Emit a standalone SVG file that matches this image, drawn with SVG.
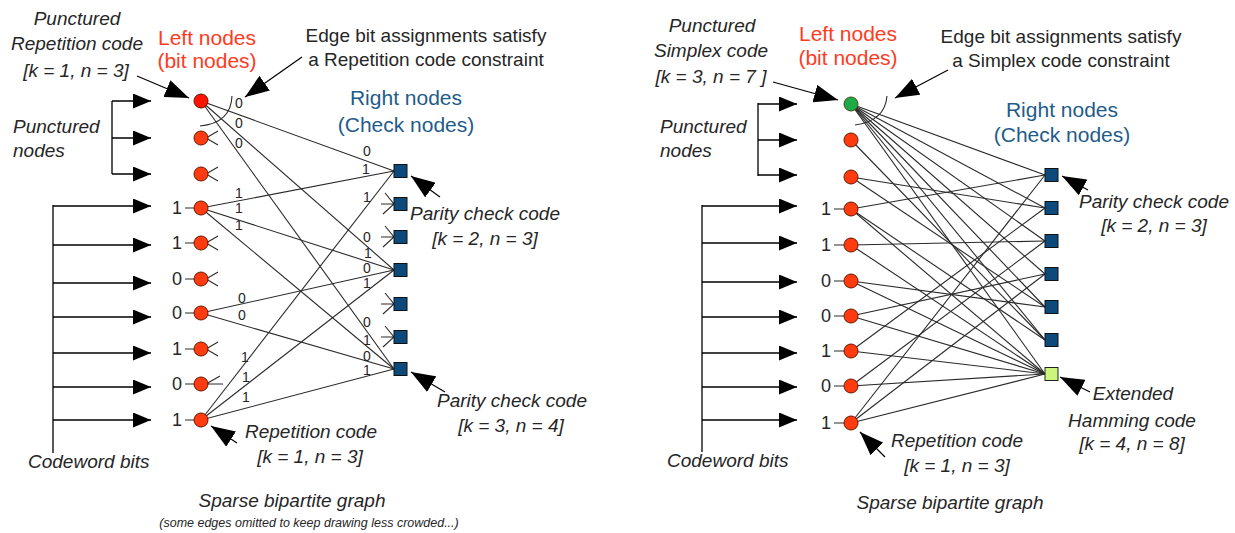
<svg xmlns="http://www.w3.org/2000/svg" width="1235" height="533" viewBox="0 0 1235 533">
<defs>
<style>
.e{stroke:#2a2a2a;stroke-width:1.1;fill:none}
.a{stroke:#000;stroke-width:1.3;fill:none}
.ah{stroke:#000;stroke-width:1.3;fill:none;marker-end:url(#mh)}
.ad{stroke:#000;stroke-width:1.2;fill:none;marker-end:url(#md)}
.rn{fill:#FF3B0F;stroke:#6a1800;stroke-width:1}
.rn1{fill:#FF1400;stroke:#6a1000;stroke-width:1}
.gn{fill:#1EAA48;stroke:#4a4a10;stroke-width:1}
.sq{fill:#0D4A7C;stroke:#111;stroke-width:1}
.hq{fill:#CCF57E;stroke:#222;stroke-width:1}
.t{font-family:"Liberation Sans",Arial,sans-serif;font-style:italic;font-size:19px;fill:#262626}
.n{font-family:"Liberation Sans",Arial,sans-serif;font-size:19px;fill:#262626}
.L{font-family:"Liberation Sans",Arial,sans-serif;font-size:21px;fill:#FF3B1F}
.R{font-family:"Liberation Sans",Arial,sans-serif;font-size:21px;fill:#1F5C8A}
.b{font-family:"Liberation Sans",Arial,sans-serif;font-size:18px;fill:#262626}
.d{font-family:"Liberation Sans",Arial,sans-serif;font-size:14px;fill:#262626;text-anchor:middle}
.s{font-family:"Liberation Sans",Arial,sans-serif;font-style:italic;font-size:12.5px;fill:#262626}
.m{text-anchor:middle}
</style>
<marker id="mh" markerUnits="userSpaceOnUse" viewBox="0 0 18 15" refX="18" refY="7.5" markerWidth="18" markerHeight="15" orient="auto"><path d="M0,0 L18,7.5 L0,15 Z" fill="#000"/></marker>
<marker id="md" markerUnits="userSpaceOnUse" viewBox="0 0 24 18" refX="24" refY="9" markerWidth="24" markerHeight="18" orient="auto"><path d="M0,0 L24,9 L0,18 Z" fill="#000"/></marker>
</defs>
<rect width="1235" height="533" fill="#fff"/>

<!-- LEFT DIAGRAM -->
<g id="connectors-left">
<line class="e" x1="201" y1="101" x2="394" y2="171"/>
<line class="e" x1="201" y1="101" x2="394" y2="270"/>
<line class="e" x1="201" y1="101" x2="394" y2="369"/>
<line class="e" x1="201" y1="208" x2="394" y2="171"/>
<line class="e" x1="201" y1="208" x2="394" y2="270"/>
<line class="e" x1="201" y1="208" x2="394" y2="369"/>
<line class="e" x1="201" y1="313" x2="394" y2="270"/>
<line class="e" x1="201" y1="313" x2="394" y2="369"/>
<line class="e" x1="201" y1="420" x2="394" y2="171"/>
<line class="e" x1="201" y1="420" x2="394" y2="270"/>
<line class="e" x1="201" y1="420" x2="394" y2="369"/>
<path class="e" d="M200,126 Q231,123 232,96"/>
<path class="e" d="M218,131 L206,138 L218,145 M218,167 L206,174 L218,181 M218,236 L206,243 L218,250 M218,272 L206,279 L218,286 M218,342 L206,349 L218,356 M220,376 L206,384 L223,384"/>
<path class="e" d="M385,193 L394,204 L383,214 M381,204 L394,204 M385,226 L394,237 L383,247 M381,237 L394,237 M385,293 L394,304 L383,314 M381,304 L394,304 M385,326 L394,337 L383,347 M381,337 L394,337"/>
<path class="e" d="M185,208 L195,208 M185,243 L195,243 M185,279 L195,279 M185,313 L195,313 M185,349 L195,349 M185,384 L195,384 M185,420 L195,420"/>
<path class="a" d="M112,101 L112,174"/>
<line class="ah" x1="112" y1="101" x2="151" y2="101"/>
<line class="ah" x1="112" y1="138" x2="151" y2="138"/>
<line class="ah" x1="112" y1="174" x2="151" y2="174"/>
<path class="a" d="M53,205 L53,453"/>
<line class="ah" x1="53" y1="206" x2="151" y2="206"/>
<line class="ah" x1="53" y1="245" x2="151" y2="245"/>
<line class="ah" x1="53" y1="283" x2="151" y2="283"/>
<line class="ah" x1="53" y1="317" x2="151" y2="317"/>
<line class="ah" x1="53" y1="353" x2="151" y2="353"/>
<line class="ah" x1="53" y1="387" x2="151" y2="387"/>
<line class="ah" x1="53" y1="420" x2="151" y2="420"/>
<line class="ad" x1="137" y1="76" x2="189" y2="98"/>
<line class="ad" x1="302" y1="57" x2="245" y2="97"/>
<line class="ad" x1="440" y1="197" x2="411" y2="176"/>
<line class="ad" x1="445" y1="392" x2="411" y2="372"/>
<line class="ad" x1="237" y1="443" x2="211" y2="426"/>
</g>

<g id="left-bit-nodes">
<circle id="L1" class="rn1" cx="201" cy="101" r="7"/>
<circle id="L2" class="rn" cx="201" cy="138" r="7"/>
<circle id="L3" class="rn" cx="201" cy="174" r="7"/>
<circle id="L4" class="rn" cx="201" cy="208" r="7"/>
<circle id="L5" class="rn" cx="201" cy="243" r="7"/>
<circle id="L6" class="rn" cx="201" cy="279" r="7"/>
<circle id="L7" class="rn" cx="201" cy="313" r="7"/>
<circle id="L8" class="rn" cx="201" cy="349" r="7"/>
<circle id="L9" class="rn" cx="201" cy="384" r="7"/>
<circle id="L10" class="rn" cx="201" cy="420" r="7"/>
</g>
<g id="left-check-nodes">
<rect id="LC1" class="sq" x="394" y="164.5" width="13" height="13"/>
<rect id="LC2" class="sq" x="394" y="197.5" width="13" height="13"/>
<rect id="LC3" class="sq" x="394" y="230.5" width="13" height="13"/>
<rect id="LC4" class="sq" x="394" y="263.5" width="13" height="13"/>
<rect id="LC5" class="sq" x="394" y="297.5" width="13" height="13"/>
<rect id="LC6" class="sq" x="394" y="330.5" width="13" height="13"/>
<rect id="LC7" class="sq" x="394" y="362.5" width="13" height="13"/>
</g>

<g id="left-labels">
<text class="d" x="239" y="108">0</text>
<text class="d" x="239" y="128">0</text>
<text class="d" x="239" y="148">0</text>
<text class="d" x="239" y="198">1</text>
<text class="d" x="239" y="213">1</text>
<text class="d" x="239" y="230">1</text>
<text class="d" x="242" y="303">0</text>
<text class="d" x="242" y="320">0</text>
<text class="d" x="245" y="362">1</text>
<text class="d" x="246" y="382">1</text>
<text class="d" x="246" y="402">1</text>
<text class="d" x="367" y="156">0</text>
<text class="d" x="366" y="174">1</text>
<text class="d" x="367" y="202">1</text>
<text class="d" x="367" y="242">0</text>
<text class="d" x="368" y="258">1</text>
<text class="d" x="367" y="273">0</text>
<text class="d" x="367" y="288">1</text>
<text class="d" x="367" y="327">0</text>
<text class="d" x="367" y="345">1</text>
<text class="d" x="367" y="361">0</text>
<text class="d" x="367" y="375">1</text>
<text class="b m" x="177" y="214">1</text>
<text class="b m" x="177" y="249">1</text>
<text class="b m" x="177" y="285">0</text>
<text class="b m" x="177" y="319">0</text>
<text class="b m" x="177" y="355">1</text>
<text class="b m" x="177" y="390">0</text>
<text class="b m" x="177" y="426">1</text>
<text class="t m" x="77" y="25">Punctured</text>
<text class="t m" x="77" y="50">Repetition code</text>
<text class="t m" x="76" y="77">[k = 1, n = 3]</text>
<text class="L m" x="207" y="45">Left nodes</text>
<text class="L m" x="207" y="68">(bit nodes)</text>
<text class="n m" x="426" y="42">Edge bit assignments satisfy</text>
<text class="n m" x="426" y="66">a Repetition code constraint</text>
<text class="R m" x="406" y="105">Right nodes</text>
<text class="R m" x="406" y="132">(Check nodes)</text>
<text class="t" x="13" y="133">Punctured</text>
<text class="t" x="13" y="157">nodes</text>
<text class="t" x="28" y="468">Codeword bits</text>
<text class="t m" x="485" y="220">Parity check code</text>
<text class="t m" x="485" y="245">[k = 2, n = 3]</text>
<text class="t m" x="512" y="407">Parity check code</text>
<text class="t m" x="511" y="432">[k = 3, n = 4]</text>
<text class="t m" x="311" y="438">Repetition code</text>
<text class="t m" x="310" y="463">[k = 1, n = 3]</text>
<text class="t m" x="292" y="507">Sparse bipartite graph</text>
<text class="s m" x="309" y="527">(some edges omitted to keep drawing less crowded...)</text>
</g>

<!-- RIGHT DIAGRAM -->
<g id="connectors-right">
<line class="e" x1="851" y1="104" x2="1045" y2="175"/>
<line class="e" x1="851" y1="104" x2="1045" y2="208"/>
<line class="e" x1="851" y1="104" x2="1045" y2="241"/>
<line class="e" x1="851" y1="104" x2="1045" y2="274"/>
<line class="e" x1="851" y1="104" x2="1045" y2="307"/>
<line class="e" x1="851" y1="104" x2="1045" y2="340"/>
<line class="e" x1="851" y1="104" x2="1045" y2="374"/>
<line class="e" x1="851" y1="140" x2="1045" y2="340"/>
<line class="e" x1="851" y1="177" x2="1045" y2="208"/>
<line class="e" x1="851" y1="177" x2="1045" y2="307"/>
<line class="e" x1="851" y1="209" x2="1045" y2="175"/>
<line class="e" x1="851" y1="209" x2="1045" y2="340"/>
<line class="e" x1="851" y1="209" x2="1045" y2="374"/>
<line class="e" x1="851" y1="245" x2="1045" y2="241"/>
<line class="e" x1="851" y1="245" x2="1045" y2="374"/>
<line class="e" x1="851" y1="281" x2="1045" y2="307"/>
<line class="e" x1="851" y1="281" x2="1045" y2="374"/>
<line class="e" x1="851" y1="316" x2="1045" y2="274"/>
<line class="e" x1="851" y1="316" x2="1045" y2="374"/>
<line class="e" x1="851" y1="351" x2="1045" y2="208"/>
<line class="e" x1="851" y1="351" x2="1045" y2="374"/>
<line class="e" x1="851" y1="386" x2="1045" y2="241"/>
<line class="e" x1="851" y1="386" x2="1045" y2="374"/>
<line class="e" x1="851" y1="423" x2="1045" y2="175"/>
<line class="e" x1="851" y1="423" x2="1045" y2="274"/>
<line class="e" x1="851" y1="423" x2="1045" y2="374"/>
<path class="e" d="M855,125 Q885,121 887,96"/>
<path class="e" d="M834,209 L844,209 M834,245 L844,245 M834,281 L844,281 M834,316 L844,316 M834,351 L844,351 M834,386 L844,386 M834,423 L844,423"/>
<path class="a" d="M758,103 L758,176"/>
<line class="ah" x1="758" y1="104" x2="797" y2="104"/>
<line class="ah" x1="758" y1="140" x2="797" y2="140"/>
<line class="ah" x1="758" y1="175" x2="797" y2="175"/>
<path class="a" d="M702,205 L702,452"/>
<line class="ah" x1="702" y1="206" x2="797" y2="206"/>
<line class="ah" x1="702" y1="243" x2="797" y2="243"/>
<line class="ah" x1="702" y1="282" x2="797" y2="282"/>
<line class="ah" x1="702" y1="317" x2="797" y2="317"/>
<line class="ah" x1="702" y1="353" x2="797" y2="353"/>
<line class="ah" x1="702" y1="387" x2="797" y2="387"/>
<line class="ah" x1="702" y1="420" x2="797" y2="420"/>
<line class="ad" x1="773" y1="82" x2="838" y2="100"/>
<line class="ad" x1="948" y1="70" x2="895" y2="98"/>
<line class="ad" x1="1088" y1="190" x2="1062" y2="176"/>
<line class="ad" x1="1090" y1="392" x2="1060" y2="377"/>
<line class="ad" x1="885" y1="457" x2="860" y2="432"/>
</g>

<g id="right-bit-nodes">
<circle id="R1" class="gn" cx="851" cy="104" r="7"/>
<circle id="R2" class="rn" cx="851" cy="140" r="7"/>
<circle id="R3" class="rn" cx="851" cy="177" r="7"/>
<circle id="R4" class="rn" cx="851" cy="209" r="7"/>
<circle id="R5" class="rn" cx="851" cy="245" r="7"/>
<circle id="R6" class="rn" cx="851" cy="281" r="7"/>
<circle id="R7" class="rn" cx="851" cy="316" r="7"/>
<circle id="R8" class="rn" cx="851" cy="351" r="7"/>
<circle id="R9" class="rn" cx="851" cy="386" r="7"/>
<circle id="R10" class="rn" cx="851" cy="423" r="7"/>
</g>
<g id="right-check-nodes">
<rect id="RC1" class="sq" x="1045" y="168.5" width="13" height="13"/>
<rect id="RC2" class="sq" x="1045" y="201.5" width="13" height="13"/>
<rect id="RC3" class="sq" x="1045" y="234.5" width="13" height="13"/>
<rect id="RC4" class="sq" x="1045" y="267.5" width="13" height="13"/>
<rect id="RC5" class="sq" x="1045" y="300.5" width="13" height="13"/>
<rect id="RC6" class="sq" x="1045" y="333.5" width="13" height="13"/>
<rect id="RC7" class="hq" x="1045" y="367.5" width="13" height="13"/>
</g>

<g id="right-labels">
<text class="b m" x="826" y="215">1</text>
<text class="b m" x="826" y="251">1</text>
<text class="b m" x="826" y="287">0</text>
<text class="b m" x="826" y="322">0</text>
<text class="b m" x="826" y="357">1</text>
<text class="b m" x="826" y="392">0</text>
<text class="b m" x="826" y="429">1</text>
<text class="t m" x="712" y="32">Punctured</text>
<text class="t m" x="711" y="57">Simplex code</text>
<text class="t m" x="711" y="83">[k = 3, n = 7 ]</text>
<text class="L m" x="848" y="41">Left nodes</text>
<text class="L m" x="848" y="65">(bit nodes)</text>
<text class="n m" x="1061" y="43">Edge bit assignments satisfy</text>
<text class="n m" x="1061" y="67">a Simplex code constraint</text>
<text class="R m" x="1062" y="117">Right nodes</text>
<text class="R m" x="1062" y="142">(Check nodes)</text>
<text class="t" x="660" y="133">Punctured</text>
<text class="t" x="660" y="157">nodes</text>
<text class="t" x="667" y="467">Codeword bits</text>
<text class="t m" x="1154" y="208">Parity check code</text>
<text class="t m" x="1154" y="232">[k = 2, n = 3]</text>
<text class="t m" x="1133" y="400">Extended</text>
<text class="t m" x="1132" y="427">Hamming code</text>
<text class="t m" x="1132" y="450">[k = 4, n = 8]</text>
<text class="t m" x="957" y="447">Repetition code</text>
<text class="t m" x="957" y="472">[k = 1, n = 3]</text>
<text class="t m" x="950" y="509">Sparse bipartite graph</text>
</g>
</svg>
